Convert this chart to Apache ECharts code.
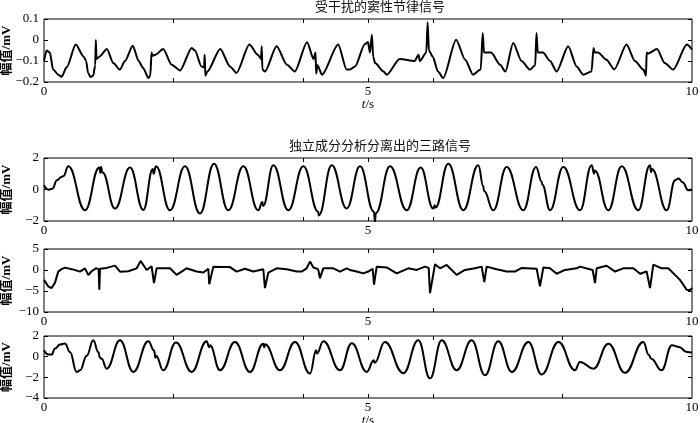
<!DOCTYPE html>
<html>
<head>
<meta charset="utf-8">
<script src="https://cdn.jsdelivr.net/npm/echarts@6/dist/echarts.min.js"></script>
<style>html,body{margin:0;padding:0;background:#fff}#c{width:700px;height:423px}</style>
</head>
<body>
<div id="c"></div>
<script>
// ---- Data ----
const title1 = '受干扰的窦性节律信号';
const title2 = '独立成分分析分离出的三路信号';
const yName = '幅值/mV';
const xLabels = [0, 5, 10];
const xTicks = [2, 4, 5, 6, 8];

// Panel 1: disturbed sinus rhythm
const t1 = [0,0.04,0.09,0.14,0.22,0.27,0.35,0.49,0.61,0.65,0.68,0.72,0.76,0.79,0.80,0.81,0.86,0.97,1.07,1.17,1.25,1.37,1.46,1.53,1.61,1.64,1.66,1.67,1.72,1.84,1.97,2.10,2.28,2.33,2.43,2.47,2.48,2.49,2.52,2.72,2.87,2.97,3.17,3.30,3.35,3.36,3.37,3.41,3.59,3.75,3.87,4.06,4.16,4.19,4.20,4.22,4.29,4.54,4.67,4.72,4.80,4.95,5.00,5.03,5.06,5.08,5.11,5.24,5.29,5.49,5.72,5.78,5.80,5.90,5.92,5.94,6.00,6.08,6.16,6.36,6.50,6.62,6.74,6.77,6.79,6.90,7.04,7.12,7.24,7.37,7.50,7.58,7.60,7.62,7.70,7.81,7.91,8.09,8.22,8.32,8.45,8.48,8.50,8.55,8.68,8.80,8.99,9.12,9.25,9.29,9.30,9.32,9.46,9.58,9.71,9.92,10];
const v1 = [-0.10,-0.05,-0.06,-0.14,-0.165,-0.175,-0.13,-0.022,-0.078,-0.10,-0.157,-0.176,-0.17,-0.12,0.0,-0.09,-0.078,-0.043,-0.11,-0.141,-0.10,-0.027,-0.10,-0.133,-0.181,-0.17,-0.06,-0.075,-0.07,-0.043,-0.118,-0.145,-0.038,-0.05,-0.126,-0.13,-0.07,-0.17,-0.15,-0.043,-0.126,-0.157,-0.022,-0.07,-0.09,-0.03,-0.14,-0.15,-0.03,-0.118,-0.15,-0.011,-0.09,-0.06,-0.16,-0.12,-0.165,-0.022,-0.141,-0.141,-0.126,-0.02,-0.01,-0.06,0.025,-0.08,-0.11,-0.15,-0.165,-0.09,-0.10,-0.07,-0.10,-0.06,0.084,-0.05,-0.08,-0.15,-0.181,0.001,-0.094,-0.165,-0.14,0.033,-0.06,-0.06,-0.118,-0.15,-0.014,-0.10,-0.141,-0.12,0.033,-0.06,-0.06,-0.10,-0.15,-0.03,-0.126,-0.165,-0.15,-0.038,-0.06,-0.06,-0.094,-0.14,-0.022,-0.10,-0.141,-0.17,-0.06,-0.065,-0.043,-0.11,-0.141,-0.022,-0.046];

// Panel 2: separated signal 1
const t2 = [0,0.07,0.13,0.2,0.27,0.3,0.375,0.633,0.854,0.87,0.88,0.9,1.096,1.327,1.533,1.68,1.69,1.728,1.944,2.176,2.407,2.623,2.844,3.076,3.307,3.37,3.38,3.539,3.77,4.002,4.233,4.24,4.44,4.671,4.877,5.09,5.108,5.12,5.34,5.597,5.813,6.008,6.03,6.04,6.239,6.471,6.702,6.78,6.79,6.934,7.14,7.397,7.593,7.68,7.69,7.809,8.014,8.272,8.452,8.49,8.50,8.708,8.915,9.171,9.352,9.37,9.38,9.61,9.74,9.79,9.86,9.94,10];
const v2 = [0.27,-0.01,0.05,0.58,0.79,0.85,1.47,-1.32,1.40,1.05,1.45,1.1,-1.21,1.39,-1.30,1.3,1.0,1.47,-1.32,1.47,-1.53,1.64,-1.32,1.47,-1.32,-0.79,-1.05,1.54,-1.32,1.47,-1.42,-1.65,1.54,-1.20,1.47,-1.4,-2.05,-1.5,1.47,-1.32,1.39,-1.21,-1.0,-1.15,1.64,-1.32,1.54,0.2,-0.1,-1.32,1.43,-1.32,1.43,0.5,0.3,-1.32,1.43,-1.32,1.54,1.0,1.2,-1.32,1.47,-1.32,1.54,1.1,1.3,-1.32,0.58,0.70,0.45,-0.05,0.0];

// Panel 3: separated signal 2
const t3 = [0,0.067,0.118,0.17,0.22,0.27,0.324,0.43,0.556,0.633,0.684,0.735,0.80,0.843,0.854,0.864,0.967,1.096,1.173,1.302,1.43,1.491,1.584,1.66,1.697,1.738,1.944,2.047,2.2,2.355,2.46,2.536,2.55,2.613,2.742,2.87,2.973,3.1,3.23,3.384,3.41,3.462,3.59,3.745,3.9,3.976,4.053,4.105,4.157,4.23,4.259,4.31,4.465,4.568,4.67,4.722,4.825,4.928,5.005,5.072,5.093,5.134,5.288,5.443,5.623,5.751,5.88,5.936,5.957,6.034,6.111,6.214,6.368,6.497,6.651,6.754,6.795,6.831,6.985,7.14,7.268,7.371,7.603,7.654,7.706,7.809,7.912,8.04,8.22,8.272,8.467,8.503,8.529,8.683,8.812,8.94,9.095,9.2,9.3,9.352,9.403,9.532,9.634,9.738,9.815,9.918,9.969,10];
const v3 = [-2.35,-3.93,-4.3,-3.0,-0.38,0.2,0.57,0.2,-0.38,0.4,-1.2,-0.3,0.4,0.2,-4.7,0.3,0.5,1.05,-0.4,-0.3,0.4,2.16,0.0,0.9,-3.1,0.4,0.4,-1.16,0.4,-0.37,-0.6,0.3,-3.37,0.8,0.7,0.7,-0.4,0.3,-0.37,0.2,-4.3,-0.6,0.4,0.2,-0.37,-0.37,0.4,2.0,0.6,0.2,-1.95,0.4,0.4,-0.37,0.4,0.02,-0.37,-0.8,-0.37,0.3,-3.5,0.8,0.6,-0.8,0.4,0.02,0.8,0.5,-5.5,1.37,0.4,1.2,-1.16,0.02,0.4,0.8,-2.9,0.8,0.2,-0.37,-0.37,0.5,0.3,-3.9,0.6,0.4,-0.9,0.02,0.4,0.8,0.0,-3.1,0.4,1.0,-0.37,0.4,0.4,-0.9,-0.37,-4.3,1.3,0.4,0.4,-1.16,-2.35,-4.7,-4.8,-4.3];

// Panel 4: separated signal 3
const t4 = [0,0.067,0.118,0.17,0.247,0.324,0.40,0.504,0.556,0.659,0.761,0.838,0.864,0.89,0.967,1.173,1.379,1.61,1.70,1.72,1.73,1.84,2.037,2.279,2.51,2.55,2.56,2.716,2.947,3.179,3.384,3.40,3.41,3.642,3.874,4.105,4.20,4.21,4.311,4.568,4.75,4.98,5.09,5.10,5.26,5.545,5.776,5.957,6.137,6.368,6.6,6.806,7.01,7.22,7.475,7.68,7.94,8.194,8.27,8.48,8.71,8.966,9.25,9.33,9.37,9.53,9.69,9.8,9.92,10];
const v4 = [0.62,0.2,0.2,0.78,1.17,1.27,0.45,-1.48,-1.32,0.1,1.58,0.45,-0.1,-0.2,-1.16,1.58,-1.48,1.49,0.6,-0.1,0.1,-1.32,1.36,-1.48,1.49,0.9,1.1,-1.32,1.42,-1.48,1.26,0.9,1.2,-1.32,1.42,-1.64,0.62,0.3,1.49,-1.32,1.3,-1.48,-0.35,-0.6,1.42,-1.6,1.58,-2.1,1.58,-1.32,1.58,-1.8,1.49,-1.48,1.42,-1.73,1.42,-1.32,-0.52,-1.16,1.26,-1.56,1.42,0.2,-0.19,-1.32,1.1,0.94,0.45,0.4];

// y axis ranges per panel
const yMins = [-0.2, -2, -10, -4];
const yMaxs = [0.1, 2, 5, 2];
const yIntervals = [0.1, 2, 5, 2];

// ---- Layout ----
const grids = [
  {left: 44, right: 8, top: 19, height: 63},
  {left: 44, right: 8, top: 158, height: 63},
  {left: 44, right: 8, top: 249, height: 63},
  {left: 44, right: 8, top: 336, height: 62}
];
const serif = "'Liberation Serif','Times New Roman',serif";
const cjk = "'Liberation Serif','Noto Sans CJK SC',serif";

const xAxis = [], yAxis = [], series = [];
const datas = [[t1, v1], [t2, v2], [t3, v3], [t4, v4]];
const smooths = [0.25, 0.45, false, 0.45];
grids.forEach((g, i) => {
  g.show = true; g.borderColor = '#000'; g.borderWidth = 1; g.backgroundColor = 'transparent';
  g.containLabel = false; g.outerBoundsMode = 'none';
  const showName = (i === 0 || i === 3);
  xAxis.push({
    gridIndex: i, type: 'value', min: 0, max: 10, position: 'bottom',
    axisLine: {show: false, onZero: false},
    axisTick: {show: true, inside: true, length: 4, customValues: xTicks, lineStyle: {color: '#000'}},
    axisLabel: {show: true, customValues: xLabels, margin: 3, fontFamily: serif, fontSize: 13, color: '#000'},
    splitLine: {show: false},
    name: showName ? '{i|t}/s' : '', nameLocation: 'middle', nameGap: 16.5, nameMoveOverlap: false,
    nameTextStyle: {fontFamily: serif, fontSize: 13, color: '#000', rich: {i: {fontStyle: 'italic', fontFamily: serif, fontSize: 13, color: '#000'}}}
  });
  xAxis.push({
    gridIndex: i, type: 'value', min: 0, max: 10, position: 'top',
    axisLine: {show: false, onZero: false},
    axisTick: {show: true, inside: true, length: 4, customValues: xTicks, lineStyle: {color: '#000'}},
    axisLabel: {show: false}, splitLine: {show: false}
  });
  yAxis.push({
    gridIndex: i, type: 'value', min: yMins[i], max: yMaxs[i], interval: yIntervals[i], position: 'left',
    axisLine: {show: false, onZero: false},
    axisTick: {show: true, inside: true, length: 4, lineStyle: {color: '#000'}},
    axisLabel: {margin: 5, fontFamily: serif, fontSize: 13, color: '#000',
      formatter: v => String(+v.toFixed(2)).replace('-', '\u2212')},
    splitLine: {show: false},
    name: yName, nameLocation: 'middle', nameGap: 31, nameMoveOverlap: false,
    nameTextStyle: {fontFamily: cjk, fontSize: 13, fontWeight: 'bold', color: '#000'}
  });
  yAxis.push({
    gridIndex: i, type: 'value', min: yMins[i], max: yMaxs[i], interval: yIntervals[i], position: 'right',
    axisLine: {show: false, onZero: false},
    axisTick: {show: true, inside: true, length: 4, lineStyle: {color: '#000'}},
    axisLabel: {show: false}, splitLine: {show: false}
  });
  const [tt, vv] = datas[i];
  series.push({
    type: 'line', xAxisIndex: i * 2, yAxisIndex: i * 2,
    data: tt.map((x, k) => [x, vv[k]]),
    showSymbol: false, smooth: smooths[i], smoothMonotone: 'x',
    lineStyle: {color: '#000', width: 2}, silent: true, animation: false
  });
});

const chart = echarts.init(document.getElementById('c'), null, {renderer: 'canvas'});
chart.setOption({
  animation: false,
  backgroundColor: '#fff',
  title: [
    {text: title1, left: 380, textAlign: 'center', top: 0, padding: 0,
     textStyle: {fontFamily: "'Noto Sans CJK SC',sans-serif", fontSize: 13, fontWeight: 'normal', color: '#111'}},
    {text: title2, left: 380, textAlign: 'center', top: 139, padding: 0,
     textStyle: {fontFamily: "'Noto Sans CJK SC',sans-serif", fontSize: 13, fontWeight: 'normal', color: '#111'}}
  ],
  grid: grids, xAxis: xAxis, yAxis: yAxis, series: series
});
</script>
</body>
</html>
